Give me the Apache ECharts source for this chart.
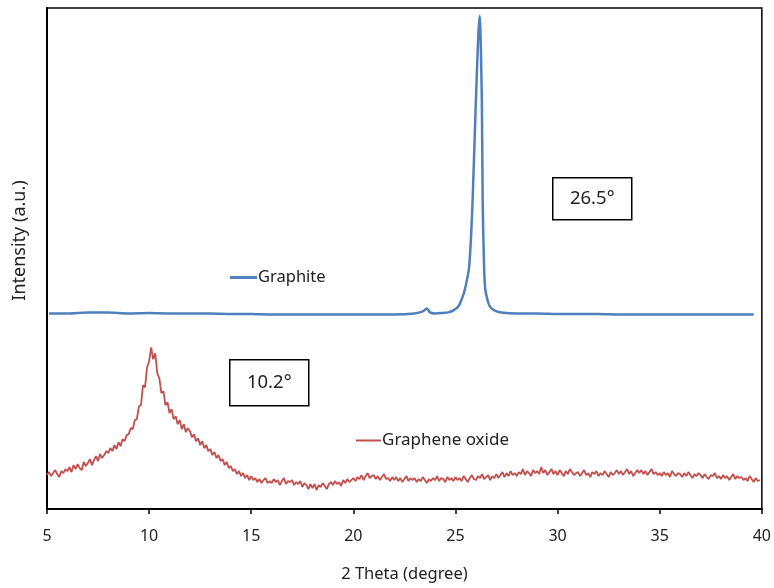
<!DOCTYPE html>
<html>
<head>
<meta charset="utf-8">
<script src="https://cdn.jsdelivr.net/npm/echarts@6/dist/echarts.min.js"></script>
<style>html,body{margin:0;padding:0;background:#fff}#c{width:774px;height:588px}</style>
</head>
<body>
<div id="c"></div>
<script>
// X-axis ticks
var xTicks = [5, 10, 15, 20, 25, 30, 35, 40];

// Graphite
var graphiteX = [5.1, 6, 7, 8, 9, 10, 11, 12, 13, 14, 15, 16, 17, 18, 19, 20, 21, 22, 23, 23.4, 23.6, 23.75, 24, 24.4, 24.65, 24.9, 25.14, 25.3, 25.46, 25.67, 25.84, 26.0, 26.18, 26.29, 26.33, 26.4, 26.46, 26.56, 26.68, 26.9, 27.24, 28, 29, 30, 31, 32, 33, 34, 35, 36, 37, 38, 39, 39.6];
var graphiteY = [196, 196, 197, 197, 196, 196.5, 196, 196, 196, 195.5, 195.5, 195, 195, 195, 195, 195, 195, 195, 196, 198, 201, 197, 196, 196.5, 197, 199, 203, 210, 220, 243, 310, 410, 494, 410, 310, 243, 220, 210, 203, 199, 197, 196, 196, 195.5, 195.5, 195.5, 195, 195, 195, 195, 195, 195, 195, 195];

var goStart = 5.0;
var goStep = 0.1;
var goY = [
  34, 37, 33, 36, 39, 35, 32, 38, 36, 40,
  38, 42, 37, 44, 40, 45, 41, 39, 47, 43,
  46, 50, 44, 49, 53, 48, 55, 51, 54, 58,
  56, 61, 58, 64, 60, 67, 63, 70, 68, 74,
  75, 81, 80, 89, 90, 103, 104, 124, 122, 142,
  148, 162, 150, 156, 136, 131, 116, 118, 104, 107,
  96, 100, 90, 93, 85, 89, 80, 85, 77, 81,
  78, 72, 75, 68, 71, 64, 68, 61, 64, 58,
  60, 54, 57, 51, 54, 48, 50, 44, 47, 41,
  43, 38, 40, 35, 38, 33, 36, 31, 34, 29,
  33, 29, 31, 27, 30, 26, 29, 31, 26, 28,
  26, 30, 27, 29, 24, 28, 31, 25, 28, 27,
  29, 24, 27, 25, 28, 22, 26, 24, 20, 25,
  21, 25, 19, 24, 22, 26, 23, 20, 25, 27,
  24, 28, 25, 27, 23, 29, 26, 30, 27, 29,
  31, 28, 32, 30, 34, 29, 33, 36, 31, 33,
  34, 30, 33, 29, 32, 35, 30, 31, 28, 32,
  29, 32, 28, 31, 27, 30, 33, 28, 31, 29,
  31, 27, 30, 28, 32, 29, 26, 30, 28, 31,
  29, 33, 28, 31, 30, 27, 32, 29, 31, 28,
  32, 29, 31, 28, 33, 30, 27, 31, 34, 30,
  29, 33, 31, 35, 30, 32, 34, 29, 33, 31,
  35, 31, 34, 37, 32, 36, 33, 38, 34, 36,
  33, 37, 35, 40, 34, 38, 36, 33, 39, 36,
  38, 35, 42, 36, 39, 34, 37, 40, 35, 38,
  34, 39, 36, 33, 38, 35, 40, 37, 34, 36,
  37, 33, 36, 39, 34, 36, 32, 37, 35, 38,
  33, 36, 34, 38, 35, 32, 37, 34, 36, 39,
  35, 38, 34, 37, 40, 35, 38, 33, 36, 39,
  36, 39, 35, 38, 34, 37, 40, 35, 37, 34,
  36, 33, 37, 34, 36, 32, 38, 35, 33, 36,
  35, 32, 36, 33, 37, 34, 31, 35, 33, 36,
  34, 31, 35, 32, 30, 34, 33, 36, 31, 33,
  30, 34, 31, 33, 29, 32, 35, 30, 33, 31,
  32, 29, 31, 28, 33, 30, 27, 31, 28, 29
];

var graphiteData = graphiteX.map(function (x, i) { return [x, graphiteY[i]]; });
var goData = goY.map(function (v, i) { return [+(goStart + i * goStep).toFixed(2), v]; });

var FONT = 'Noto Sans';
var chart = echarts.init(document.getElementById('c'), null, { renderer: 'canvas' });
chart.setOption({
  animation: false,
  backgroundColor: '#fff',
  textStyle: { fontFamily: FONT },
  grid: { left: 47, right: 9, top: 8, bottom: 78, show: true, borderColor: '#000', borderWidth: 1.5, backgroundColor: 'transparent' },
  legend: [
    { data: ['Graphite'], left: 230, top: 269, padding: 0, itemWidth: 27, itemHeight: 3, icon: 'rect',
      textStyle: { fontFamily: FONT, fontSize: 16.5, color: '#222', padding: [0, 0, 0, -4] } },
    { data: ['Graphene oxide'], left: 356, top: 432, padding: 0, itemWidth: 25, itemHeight: 2, icon: 'rect',
      textStyle: { fontFamily: FONT, fontSize: 17, color: '#222', padding: [0, 0, 0, -4] } }
  ],
  xAxis: {
    type: 'value', min: 5, max: 40, interval: 5,
    name: '2 Theta (degree)', nameLocation: 'middle', nameGap: 57,
    nameTextStyle: { fontFamily: FONT, fontSize: 16.5, color: '#222' },
    axisLine: { show: true, onZero: false, lineStyle: { color: '#000', width: 2 } },
    axisTick: { show: true, inside: false, length: 5, lineStyle: { color: '#000', width: 1.5 } },
    axisLabel: { margin: 19, fontFamily: FONT, fontSize: 16, color: '#222',
      formatter: function (v) { return xTicks.indexOf(v) >= 0 ? String(v) : ''; } },
    splitLine: { show: false }
  },
  yAxis: {
    type: 'value', min: 0, max: 502,
    name: 'Intensity (a.u.)', nameLocation: 'middle', nameGap: 18,
    nameTextStyle: { fontFamily: FONT, fontSize: 18, color: '#222', padding: [0, 0, 0, 36] },
    axisLine: { show: true, lineStyle: { color: '#000', width: 2 } },
    axisTick: { show: false }, axisLabel: { show: false }, splitLine: { show: false }
  },
  series: [
    { name: 'Graphite', type: 'line', data: graphiteData, showSymbol: false, smooth: 0.3,
      color: '#4F7FBC', lineStyle: { color: '#4F7FBC', width: 2.5 }, z: 3 },
    { name: 'Graphene oxide', type: 'line', data: goData, showSymbol: false,
      color: '#C0504D', lineStyle: { color: '#C0504D', width: 1.8 }, z: 2 }
  ],
  graphic: [
    { type: 'group', left: 552, top: 177, children: [
      { type: 'rect', shape: { x: 0, y: 0, width: 79, height: 42 }, style: { fill: '#fff', stroke: '#000', lineWidth: 1.5 } },
      { type: 'text', x: 39.5, y: 21, style: { text: '26.5°', fontFamily: FONT, fontSize: 18.5, fill: '#222', align: 'center', verticalAlign: 'middle' } }
    ] },
    { type: 'group', left: 229, top: 359, children: [
      { type: 'rect', shape: { x: 0, y: 0, width: 79, height: 46 }, style: { fill: '#fff', stroke: '#000', lineWidth: 1.5 } },
      { type: 'text', x: 39.5, y: 23, style: { text: '10.2°', fontFamily: FONT, fontSize: 18.5, fill: '#222', align: 'center', verticalAlign: 'middle' } }
    ] }
  ]
});
</script>
</body>
</html>
